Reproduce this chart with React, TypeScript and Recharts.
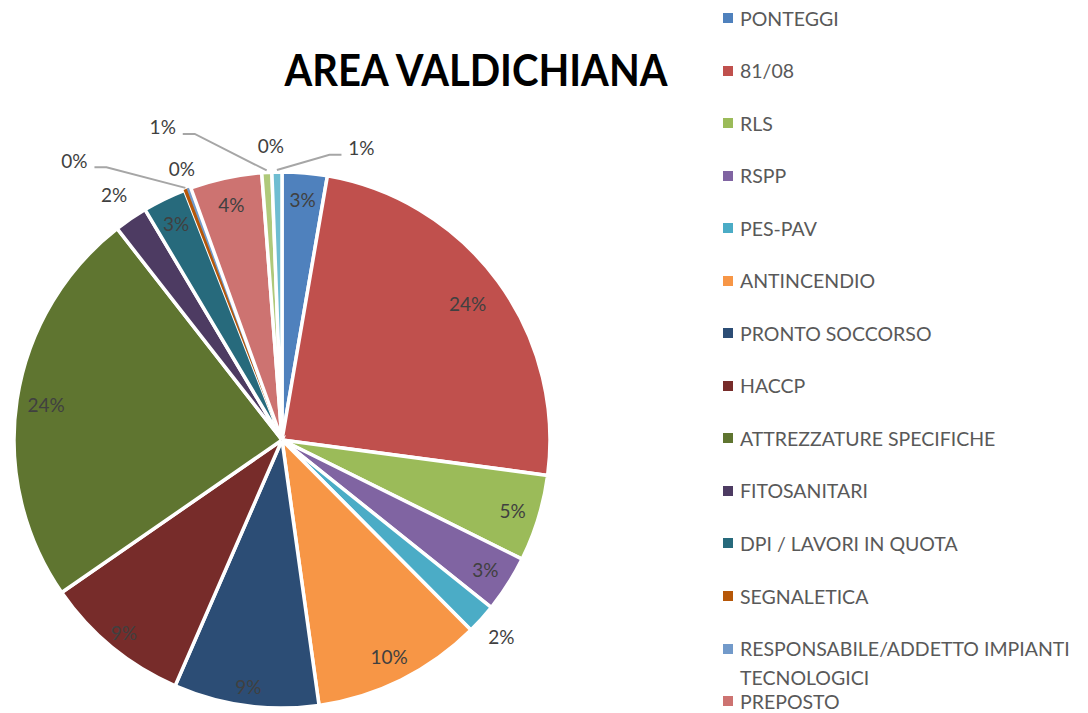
import { PieChart, Pie, Cell, Legend } from "recharts";

const categories = [
  "PONTEGGI",
  "81/08",
  "RLS",
  "RSPP",
  "PES-PAV",
  "ANTINCENDIO",
  "PRONTO SOCCORSO",
  "HACCP",
  "ATTREZZATURE SPECIFICHE",
  "FITOSANITARI",
  "DPI / LAVORI IN QUOTA",
  "SEGNALETICA",
  "RESPONSABILE/ADDETTO IMPIANTI TECNOLOGICI",
  "PREPOSTO",
  "ALTRO 1",
  "ALTRO 2",
  "ALTRO 3",
];

// share of each course type (%)
const shares = [2.7, 24.3, 5.2, 3.4, 1.8, 10.2, 8.7, 8.8, 24.0, 2.0, 2.6, 0.2, 0.2, 4.3, 0.6, 0, 0.6];

// only the first 14 legend rows fit in the window
const visibleLegend = 14;

const colors = [
  "#4F81BD", "#C0504D", "#9BBB59", "#8064A2", "#4BACC6", "#F79646",
  "#2C4D75", "#772C2A", "#5F7530", "#4D3B62", "#276A7C", "#B65708",
  "#729ACA", "#CD7371", "#AFC97A", "#9983B5", "#6FBDD1",
];

// label placement: radius factor, angle shift (deg), leader line
const labelSpots: Array<{ r: number; da?: number; lead?: boolean }> = [
  { r: 0.9 }, { r: 0.86 }, { r: 0.9 }, { r: 0.9 }, { r: 1.1 }, { r: 0.9 },
  { r: 0.93 }, { r: 0.93 }, { r: 0.89 }, { r: 1.11 }, { r: 0.9 },
  { r: 1.3, da: 15.6, lead: true }, { r: 1.08 }, { r: 0.9 },
  { r: 1.25, da: 17.6, lead: true }, { r: 1.1 }, { r: 1.13, da: -16.3, lead: true },
];

const data = categories.map((name, i) => ({ name, value: shares[i], fill: colors[i] }));

const RAD = Math.PI / 180;
const FONT = "Lato, 'Open Sans', sans-serif";

const renderLabel = (props: any) => {
  const { cx, cy, midAngle, outerRadius, percent, index } = props;
  const spot = labelSpots[index] || { r: 1.1 };
  const a = midAngle + (spot.da || 0);
  const rr = outerRadius * spot.r;
  const lx = cx + rr * Math.cos(-a * RAD);
  const ly = cy + rr * Math.sin(-a * RAD);
  const sx = cx + (outerRadius + 2) * Math.cos(-midAngle * RAD);
  const sy = cy + (outerRadius + 2) * Math.sin(-midAngle * RAD);
  const side = sx > lx ? 1 : -1;
  const x0 = lx + side * 20;
  const y0 = ly + 7;
  return (
    <g key={`lbl-${index}`}>
      {spot.lead && (
        <polyline
          points={`${x0},${y0} ${x0 + side * 12},${y0} ${sx},${sy}`}
          fill="none"
          stroke="#A6A6A6"
          strokeWidth={2}
        />
      )}
      <text
        x={lx}
        y={ly}
        textAnchor="middle"
        dominantBaseline="central"
        fontSize={19}
        fontFamily={FONT}
        fill="#404040"
      >
        {`${Math.round(percent * 100)}%`}
      </text>
    </g>
  );
};

const renderLegend = () => (
  <div style={{ fontFamily: FONT }}>
    {categories.slice(0, visibleLegend).map((name, i) => (
      <div
        key={name}
        style={{ height: 52.55, display: "flex", alignItems: "flex-start" }}
      >
        <div
          style={{
            width: 10,
            height: 10,
            marginTop: 9.5,
            marginRight: 7,
            flexShrink: 0,
            background: colors[i],
          }}
        />
        <div
          style={{
            fontSize: 19.5,
            lineHeight: "29px",
            color: "#595959",
            width: 345,
          }}
        >
          {name}
        </div>
      </div>
    ))}
  </div>
);

export default function App() {
  return (
    <div style={{ position: "relative", width: 1088, height: 713, overflow: "hidden", background: "#fff" }}>
      <style>{`body{margin:0}`}</style>
      <PieChart width={1088} height={713} margin={{ top: 0, right: 0, bottom: 0, left: 0 }}>
        <text
          x={476}
          y={86}
          textAnchor="middle"
          fontSize={44}
          fontWeight={700}
          fontFamily={FONT}
          fill="#000"
          textLength={383}
          lengthAdjust="spacingAndGlyphs"
        >
          AREA VALDICHIANA
        </text>
        <Pie
          data={data}
          dataKey="value"
          nameKey="name"
          cx={282}
          cy={440}
          outerRadius={268}
          startAngle={90}
          endAngle={-270}
          stroke="#fff"
          strokeWidth={3.5}
          label={renderLabel}
          labelLine={false}
          isAnimationActive={false}
        >
          {data.map((d, i) =>
            d.value > 0 && d.value < 0.5 ? (
              <Cell key={i} fill={d.fill} stroke={d.fill} strokeWidth={1.5} />
            ) : (
              <Cell key={i} fill={d.fill} />
            )
          )}
        </Pie>
        <Legend
          layout="vertical"
          verticalAlign="top"
          align="right"
          content={renderLegend}
          wrapperStyle={{ position: "absolute", left: 723, top: 3.5, width: 365 }}
        />
      </PieChart>
    </div>
  );
}
